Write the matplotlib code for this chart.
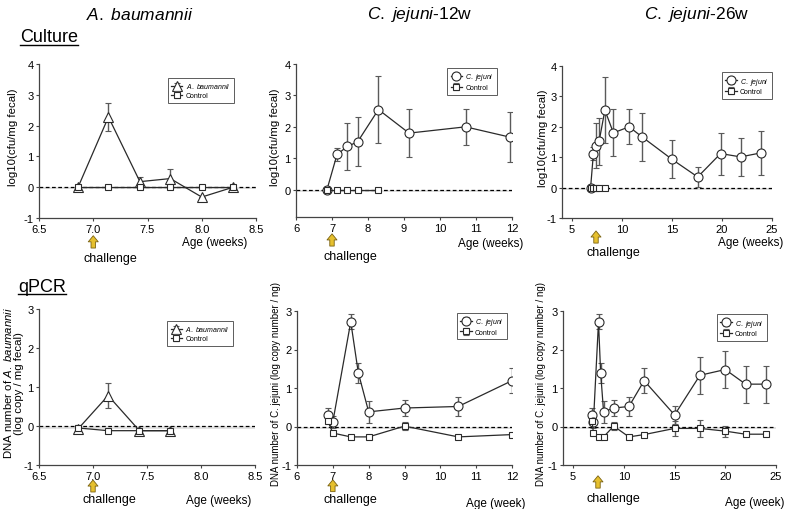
import matplotlib
matplotlib.use("Agg")
import matplotlib.pyplot as plt
from matplotlib.lines import Line2D
from matplotlib import font_manager as fm

plt.rcParams['font.family'] = ['Liberation Sans', 'DejaVu Sans']
plt.rcParams['mathtext.fontset'] = 'custom'
plt.rcParams['mathtext.rm'] = 'Liberation Sans'
plt.rcParams['mathtext.it'] = 'Liberation Sans:italic'
plt.rcParams['axes.unicode_minus'] = False

# ---------------- data ----------------
# Culture, A. baumannii
ab_cul_x = [6.86, 7.14, 7.43, 7.71, 8.00, 8.29]
ab_cul_y = [0.0, 2.28, 0.18, 0.28, -0.32, 0.0]
ab_cul_err = [0.0, 0.47, 0.15, 0.30, 0.0, 0.05]
ab_cul_ctrl_x = [6.86, 7.14, 7.43, 7.71, 8.00, 8.29]
ab_cul_ctrl_y = [0.0, 0.0, 0.0, 0.0, 0.0, 0.0]
ab_cul_ctrl_err = [0.0, 0.0, 0.0, 0.0, 0.0, 0.0]

# Culture, C. jejuni 12w
cj12_cul_x = [6.86, 7.14, 7.43, 7.71, 8.29, 9.14, 10.71, 11.95]
cj12_cul_y = [0.0, 1.12, 1.38, 1.52, 2.55, 1.80, 2.00, 1.67]
cj12_cul_err = [0.0, 0.21, 0.74, 0.78, 1.08, 0.77, 0.57, 0.80]
cj12_cul_ctrl_x = [6.86, 7.14, 7.43, 7.71, 8.29]
cj12_cul_ctrl_y = [0.0, 0.0, 0.0, 0.0, 0.0]
cj12_cul_ctrl_err = [0.0, 0.0, 0.0, 0.0, 0.0]

# Culture, C. jejuni 26w
cj26_cul_x = [6.86, 7.14, 7.43, 7.71, 8.29, 9.14, 10.71, 12.0, 15.0, 17.57, 19.86, 21.86, 23.86]
cj26_cul_y = [0.0, 1.12, 1.38, 1.52, 2.55, 1.80, 2.00, 1.67, 0.93, 0.35, 1.12, 1.01, 1.14]
cj26_cul_err = [0.0, 0.21, 0.74, 0.78, 1.08, 0.77, 0.57, 0.80, 0.63, 0.34, 0.69, 0.63, 0.73]
cj26_cul_ctrl_x = [6.86, 7.14, 7.43, 7.71, 8.29]
cj26_cul_ctrl_y = [0.0, 0.0, 0.0, 0.0, 0.0]
cj26_cul_ctrl_err = [0.0, 0.0, 0.0, 0.0, 0.0]

# qPCR, A. baumannii
ab_q_x = [6.86, 7.14, 7.43, 7.71]
ab_q_y = [-0.08, 0.78, -0.12, -0.12]
ab_q_err = [0.10, 0.33, 0.03, 0.03]
ab_q_ctrl_x = [6.86, 7.14, 7.43, 7.71]
ab_q_ctrl_y = [-0.05, -0.12, -0.12, -0.12]
ab_q_ctrl_err = [0.03, 0.03, 0.03, 0.03]

# qPCR, C. jejuni 12w
cj12_q_x = [6.86, 7.0, 7.5, 7.71, 8.0, 9.0, 10.5, 12.0]
cj12_q_y = [0.29, 0.12, 2.72, 1.40, 0.38, 0.48, 0.52, 1.19]
cj12_q_err = [0.18, 0.16, 0.19, 0.26, 0.29, 0.20, 0.25, 0.33]
cj12_q_ctrl_x = [6.86, 7.0, 7.5, 8.0, 9.0, 10.5, 12.0]
cj12_q_ctrl_y = [0.15, -0.17, -0.27, -0.27, 0.01, -0.27, -0.21]
cj12_q_ctrl_err = [0.05, 0.06, 0.03, 0.03, 0.10, 0.03, 0.03]

# qPCR, C. jejuni 26w
cj26_q_x = [6.86, 7.0, 7.5, 7.71, 8.0, 9.0, 10.5, 12.0, 15.0, 17.5, 20.0, 22.0, 24.0]
cj26_q_y = [0.29, 0.12, 2.72, 1.40, 0.38, 0.48, 0.52, 1.19, 0.30, 1.33, 1.48, 1.10, 1.10]
cj26_q_err = [0.18, 0.16, 0.19, 0.26, 0.29, 0.20, 0.25, 0.33, 0.24, 0.48, 0.48, 0.48, 0.48]
cj26_q_ctrl_x = [6.86, 7.0, 7.5, 8.0, 9.0, 10.5, 12.0, 15.0, 17.5, 20.0, 22.0, 24.0]
cj26_q_ctrl_y = [0.15, -0.17, -0.27, -0.27, 0.01, -0.27, -0.21, -0.05, -0.05, -0.12, -0.20, -0.20]
cj26_q_ctrl_err = [0.05, 0.06, 0.03, 0.03, 0.10, 0.03, 0.03, 0.20, 0.22, 0.14, 0.03, 0.03]

AB = r'$\mathit{A.\ baumannii}$'
CJ = r'$\mathit{C.\ jejuni}$'

fig = plt.figure(figsize=(7.85, 5.1), dpi=100)
W, H = 785.0, 510.0

def make_ax(x0, x1, y0, y1):
    return fig.add_axes([x0 / W, 1 - y1 / H, (x1 - x0) / W, (y1 - y0) / H])

LC = '#2a2a2a'
EC = '#5a5a5a'

def panel(ax, tx, ty, te, cx, cy, ce, marker, tlabel, xlim, ylim, xticks, xtl, yticks,
          ylabel, ylab_x, ylab_fs, leg_xy, arrow_x, arrow_y, chal_xy, age_txt, age_xy):
    ax.axhspan(-0.07, 0, color='#e2e2e2', lw=0, zorder=0)
    ax.axhline(0, color='black', lw=0.9, ls=(0, (3, 2)), zorder=1)
    ax.errorbar(tx, ty, yerr=te, color=LC, lw=0.9, marker=marker, ms=6.5,
                mfc='white', mec=LC, mew=0.8, ecolor=EC, elinewidth=1.0, capsize=2.5,
                capthick=1.0, zorder=3, label=tlabel)
    ax.errorbar(cx, cy, yerr=ce, color=LC, lw=0.9, marker='s', ms=5.0,
                mfc='white', mec=LC, mew=0.8, ecolor=EC, elinewidth=1.0, capsize=2.5,
                capthick=1.0, zorder=4, label='Control')
    ax.set_xlim(*xlim)
    ax.set_ylim(*ylim)
    ax.set_xticks(xticks)
    ax.set_xticklabels(xtl)
    ax.set_yticks(yticks)
    for s in ('top', 'right'):
        ax.spines[s].set_visible(False)
    for s in ('left', 'bottom'):
        ax.spines[s].set_color('#444444')
        ax.spines[s].set_linewidth(0.9)
    ax.tick_params(labelsize=8, length=2.5, width=0.8, color='#444444', pad=1.5)
    ax.set_ylabel(ylabel, fontsize=ylab_fs, linespacing=1.05, va='center')
    ax.yaxis.set_label_coords(ylab_x, 0.53)
    leg = ax.legend(loc='upper left', bbox_to_anchor=leg_xy, fontsize=5, frameon=True,
                    fancybox=False, edgecolor='#333333', handlelength=1.6,
                    borderpad=0.5, labelspacing=0.25, handletextpad=0.5, borderaxespad=0)
    leg.get_frame().set_linewidth(0.7)
    for h in leg.legend_handles:
        try:
            h.set_markersize(4)
        except Exception:
            pass
    ax.annotate('', xy=(arrow_x, arrow_y[0]), xytext=(arrow_x, arrow_y[1]),
                xycoords=('data', 'axes fraction'), textcoords=('data', 'axes fraction'),
                arrowprops=dict(arrowstyle='simple,head_length=0.55,head_width=0.9,tail_width=0.4',
                                mutation_scale=8, shrinkA=0, shrinkB=0,
                                fc='#e6c02e', ec='#7a6212', lw=0.6),
                annotation_clip=False)
    ax.text(chal_xy[0], chal_xy[1], 'challenge', transform=ax.transAxes, fontsize=9,
            ha='center', va='center')
    ax.text(age_xy[0], age_xy[1], age_txt, transform=ax.transAxes, fontsize=8.5,
            ha='center', va='center')

t1 = [6.5, 7.0, 7.5, 8.0, 8.5]
t1l = ['6.5', '7.0', '7.5', '8.0', '8.5']
t2 = [6, 7, 8, 9, 10, 11, 12]
t2l = ['6', '7', '8', '9', '10', '11', '12']
t3 = [5, 10, 15, 20, 25]
t3l = ['5', '10', '15', '20', '25']

ax1 = make_ax(39, 256, 65, 219)
panel(ax1, ab_cul_x, ab_cul_y, ab_cul_err, ab_cul_ctrl_x, ab_cul_ctrl_y, ab_cul_ctrl_err, '^', AB,
      (6.5, 8.5), (-1, 4), t1, t1l, [-1, 0, 1, 2, 3, 4], 'log10(cfu/mg fecal)', -0.12, 8.2,
      (0.594, 0.909), 7.0, (-0.115, -0.195), (0.327, -0.26), 'Age (weeks)', (0.81, -0.156))

ax2 = make_ax(296, 512, 65, 218)
panel(ax2, cj12_cul_x, cj12_cul_y, cj12_cul_err, cj12_cul_ctrl_x, cj12_cul_ctrl_y, cj12_cul_ctrl_err, 'o', CJ,
      (6, 12), (-0.87, 4), t2, t2l, [0, 1, 2, 3, 4], 'log10(cfu/mg fecal)', -0.097, 8.2,
      (0.70, 0.974), 7.0, (-0.11, -0.19), (0.25, -0.255), 'Age (weeks)', (0.90, -0.17))

ax3 = make_ax(562, 772, 67, 219)
panel(ax3, cj26_cul_x, cj26_cul_y, cj26_cul_err, cj26_cul_ctrl_x, cj26_cul_ctrl_y, cj26_cul_ctrl_err, 'o', CJ,
      (4, 25), (-1, 4), t3, t3l, [-1, 0, 1, 2, 3, 4], 'log10(cfu/mg fecal)', -0.09, 8.2,
      (0.762, 0.96), 7.4, (-0.085, -0.165), (0.243, -0.224), 'Age (weeks)', (0.90, -0.158))

ax4 = make_ax(39, 255, 310, 466)
panel(ax4, ab_q_x, ab_q_y, ab_q_err, ab_q_ctrl_x, ab_q_ctrl_y, ab_q_ctrl_err, '^', AB,
      (6.5, 8.5), (-1, 3), t1, t1l, [-1, 0, 1, 2, 3],
      'DNA number of ' + AB + '\n(log copy / mg fecal)', -0.12, 8.2,
      (0.594, 0.923), 7.0, (-0.096, -0.173), (0.327, -0.218), 'Age (weeks)', (0.834, -0.224))

ax5 = make_ax(297, 512, 312, 466)
panel(ax5, cj12_q_x, cj12_q_y, cj12_q_err, cj12_q_ctrl_x, cj12_q_ctrl_y, cj12_q_ctrl_err, 'o', CJ,
      (6, 12), (-1, 3), t2, t2l, [-1, 0, 1, 2, 3],
      'DNA number of C. jejuni (log copy number / ng)', -0.098, 7.0,
      (0.744, 0.99), 7.0, (-0.096, -0.173), (0.247, -0.22), 'Age (week)', (0.925, -0.247))

ax6 = make_ax(563, 776, 312, 466)
panel(ax6, cj26_q_x, cj26_q_y, cj26_q_err, cj26_q_ctrl_x, cj26_q_ctrl_y, cj26_q_ctrl_err, 'o', CJ,
      (4, 25), (-1, 3), t3, t3l, [-1, 0, 1, 2, 3],
      'DNA number of C. jejuni (log copy number / ng)', -0.103, 7.0,
      (0.723, 0.98), 7.45, (-0.07, -0.15), (0.235, -0.214), 'Age (week)', (0.90, -0.24))

# Column titles
fig.text(140 / W, 1 - 15 / H, AB, fontsize=12.5, ha='center', va='center')
fig.text(420 / W, 1 - 15 / H, CJ + '-12w', fontsize=12.5, ha='center', va='center')
fig.text(697 / W, 1 - 15 / H, CJ + '-26w', fontsize=12.5, ha='center', va='center')

# Row labels (underlined)
row_txt = []
row_txt.append(fig.text(20 / W, 1 - 38 / H, 'Culture', fontsize=13, ha='left', va='center'))
row_txt.append(fig.text(18 / W, 1 - 287 / H, 'qPCR', fontsize=13, ha='left', va='center'))
fig.canvas.draw()
r = fig.canvas.get_renderer()
for t in row_txt:
    bb = t.get_window_extent(r)
    yy = bb.y0 + 0.5
    fig.add_artist(Line2D([bb.x0 / W, bb.x1 / W], [yy / H, yy / H], color='black', lw=1.0,
                          transform=fig.transFigure))

fig.savefig('out.png', dpi=100)
